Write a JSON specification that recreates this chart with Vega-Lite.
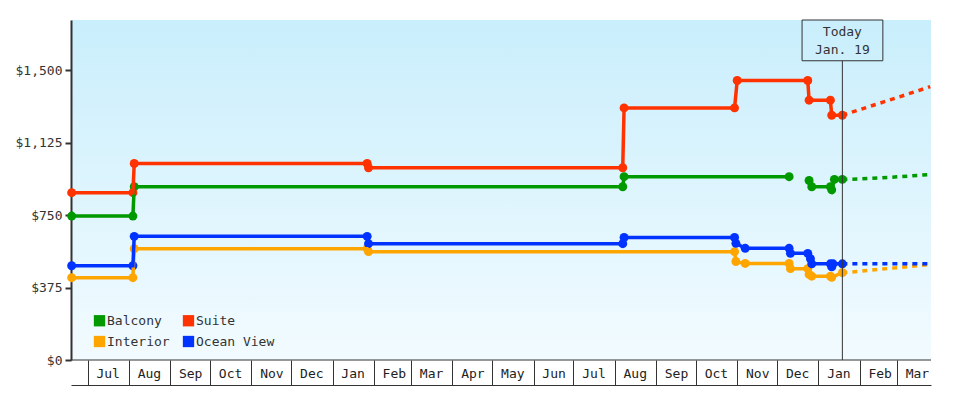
{
  "$schema": "https://vega.github.io/schema/vega-lite/v6.json",
  "width": 860,
  "height": 340,
  "autosize": {"type": "none"},
  "padding": {"left": 71, "top": 20, "right": 49, "bottom": 40},
  "background": "white",
  "config": {
    "view": {"stroke": null, "fill": {"gradient": "linear", "x1": 0, "y1": 0, "x2": 0, "y2": 1, "stops": [{"offset": 0, "color": "#c9eefc"}, {"offset": 1, "color": "#f2fbff"}]}},
    "font": "DejaVu Sans Mono",
    "axis": {"labelFont": "DejaVu Sans Mono", "labelFontSize": 13, "grid": false, "title": null},
    "legend": {"labelFont": "DejaVu Sans Mono", "labelFontSize": 13}
  },
  "datasets": {
    "hist": [
      {"series": "Balcony", "seg": "a", "date": "2013-06-19", "price": 745},
      {"series": "Balcony", "seg": "a", "date": "2013-08-04", "price": 745},
      {"series": "Balcony", "seg": "a", "date": "2013-08-05", "price": 897},
      {"series": "Balcony", "seg": "a", "date": "2014-08-07", "price": 897},
      {"series": "Balcony", "seg": "a", "date": "2014-08-08", "price": 949},
      {"series": "Balcony", "seg": "a", "date": "2014-12-10", "price": 949},
      {"series": "Balcony", "seg": "b", "date": "2014-12-25", "price": 929},
      {"series": "Balcony", "seg": "b", "date": "2014-12-27", "price": 897},
      {"series": "Balcony", "seg": "b", "date": "2015-01-10", "price": 897},
      {"series": "Balcony", "seg": "b", "date": "2015-01-11", "price": 881},
      {"series": "Balcony", "seg": "b", "date": "2015-01-13", "price": 935},
      {"series": "Balcony", "seg": "b", "date": "2015-01-19", "price": 935},
      {"series": "Interior", "seg": "a", "date": "2013-06-19", "price": 426},
      {"series": "Interior", "seg": "a", "date": "2013-08-04", "price": 426},
      {"series": "Interior", "seg": "a", "date": "2013-08-05", "price": 576},
      {"series": "Interior", "seg": "a", "date": "2014-01-27", "price": 576},
      {"series": "Interior", "seg": "a", "date": "2014-01-28", "price": 561},
      {"series": "Interior", "seg": "a", "date": "2014-10-30", "price": 561},
      {"series": "Interior", "seg": "a", "date": "2014-10-31", "price": 510},
      {"series": "Interior", "seg": "a", "date": "2014-11-07", "price": 500},
      {"series": "Interior", "seg": "a", "date": "2014-12-10", "price": 500},
      {"series": "Interior", "seg": "a", "date": "2014-12-11", "price": 473},
      {"series": "Interior", "seg": "a", "date": "2014-12-24", "price": 473},
      {"series": "Interior", "seg": "a", "date": "2014-12-25", "price": 443},
      {"series": "Interior", "seg": "a", "date": "2014-12-27", "price": 434},
      {"series": "Interior", "seg": "a", "date": "2015-01-10", "price": 434},
      {"series": "Interior", "seg": "a", "date": "2015-01-11", "price": 428},
      {"series": "Interior", "seg": "a", "date": "2015-01-19", "price": 452},
      {"series": "Ocean View", "seg": "a", "date": "2013-06-19", "price": 488},
      {"series": "Ocean View", "seg": "a", "date": "2013-08-04", "price": 488},
      {"series": "Ocean View", "seg": "a", "date": "2013-08-05", "price": 640},
      {"series": "Ocean View", "seg": "a", "date": "2014-01-27", "price": 640},
      {"series": "Ocean View", "seg": "a", "date": "2014-01-28", "price": 602},
      {"series": "Ocean View", "seg": "a", "date": "2014-08-07", "price": 602},
      {"series": "Ocean View", "seg": "a", "date": "2014-08-08", "price": 634},
      {"series": "Ocean View", "seg": "a", "date": "2014-10-30", "price": 634},
      {"series": "Ocean View", "seg": "a", "date": "2014-10-31", "price": 604},
      {"series": "Ocean View", "seg": "a", "date": "2014-11-07", "price": 578},
      {"series": "Ocean View", "seg": "a", "date": "2014-12-10", "price": 578},
      {"series": "Ocean View", "seg": "a", "date": "2014-12-11", "price": 552},
      {"series": "Ocean View", "seg": "a", "date": "2014-12-24", "price": 552},
      {"series": "Ocean View", "seg": "a", "date": "2014-12-26", "price": 524},
      {"series": "Ocean View", "seg": "a", "date": "2014-12-27", "price": 498},
      {"series": "Ocean View", "seg": "a", "date": "2015-01-10", "price": 498},
      {"series": "Ocean View", "seg": "a", "date": "2015-01-11", "price": 482},
      {"series": "Ocean View", "seg": "a", "date": "2015-01-12", "price": 498},
      {"series": "Ocean View", "seg": "a", "date": "2015-01-19", "price": 498},
      {"series": "Suite", "seg": "a", "date": "2013-06-19", "price": 866},
      {"series": "Suite", "seg": "a", "date": "2013-08-04", "price": 866},
      {"series": "Suite", "seg": "a", "date": "2013-08-05", "price": 1017},
      {"series": "Suite", "seg": "a", "date": "2014-01-27", "price": 1017},
      {"series": "Suite", "seg": "a", "date": "2014-01-28", "price": 995},
      {"series": "Suite", "seg": "a", "date": "2014-08-07", "price": 995},
      {"series": "Suite", "seg": "a", "date": "2014-08-08", "price": 1305},
      {"series": "Suite", "seg": "a", "date": "2014-10-30", "price": 1305},
      {"series": "Suite", "seg": "a", "date": "2014-11-01", "price": 1447},
      {"series": "Suite", "seg": "a", "date": "2014-12-24", "price": 1447},
      {"series": "Suite", "seg": "a", "date": "2014-12-25", "price": 1345},
      {"series": "Suite", "seg": "a", "date": "2015-01-10", "price": 1345},
      {"series": "Suite", "seg": "a", "date": "2015-01-11", "price": 1267},
      {"series": "Suite", "seg": "a", "date": "2015-01-19", "price": 1267}
    ],
    "proj": [
      {"series": "Balcony", "date": "2015-01-19", "price": 935},
      {"series": "Balcony", "date": "2015-02-01", "price": 937},
      {"series": "Balcony", "date": "2015-03-01", "price": 948},
      {"series": "Balcony", "date": "2015-03-26", "price": 960},
      {"series": "Interior", "date": "2015-01-19", "price": 452},
      {"series": "Interior", "date": "2015-02-01", "price": 459},
      {"series": "Interior", "date": "2015-03-01", "price": 478},
      {"series": "Interior", "date": "2015-03-26", "price": 495},
      {"series": "Ocean View", "date": "2015-01-19", "price": 498},
      {"series": "Ocean View", "date": "2015-02-01", "price": 498},
      {"series": "Ocean View", "date": "2015-03-01", "price": 498},
      {"series": "Ocean View", "date": "2015-03-26", "price": 498},
      {"series": "Suite", "date": "2015-01-19", "price": 1267},
      {"series": "Suite", "date": "2015-02-01", "price": 1296},
      {"series": "Suite", "date": "2015-03-01", "price": 1358},
      {"series": "Suite", "date": "2015-03-26", "price": 1415}
    ]
  },
  "layer": [
    {
      "data": {"name": "hist"},
      "mark": {"type": "circle", "size": 80, "opacity": 1},
      "encoding": {
        "x": {"field": "date", "type": "temporal",
          "scale": {"type": "utc", "nice": false, "domain": [{"year": 2013, "month": 6, "date": 18, "hours": 12, "utc": true}, {"year": 2015, "month": 3, "date": 26, "hours": 14, "utc": true}]},
          "axis": {"orient": "bottom", "offset": 25, "tickCount": {"interval": "month", "step": 1}, "format": "%b", "tickSize": -25, "tickColor": "#333", "tickWidth": 1, "labelOffset": 20, "labelPadding": 13, "labelBaseline": "middle", "labelAlign": "center", "labelFlush": false, "labelOverlap": false, "labelBound": false, "labelColor": "#222", "domainColor": "#333", "domainWidth": 1}},
        "y": {"field": "price", "type": "quantitative",
          "scale": {"domain": [0, 1760], "nice": false},
          "axis": {"values": [0, 375, 750, 1125, 1500], "format": "$,.0f", "domainWidth": 2, "domainColor": "#333", "tickWidth": 2, "tickSize": 6, "tickColor": "#333", "labelPadding": 3, "labelColor": "#333"}},
        "color": {"field": "series", "type": "nominal",
          "scale": {"domain": ["Balcony", "Suite", "Interior", "Ocean View"], "range": ["#009900", "#ff3300", "#ffa500", "#0033ff"]},
          "legend": {"orient": "none", "legendX": 22, "legendY": 294, "direction": "horizontal", "columns": 2, "symbolType": "square", "symbolSize": 128, "symbolStrokeWidth": 0, "labelColor": "#333", "labelOffset": 1, "columnPadding": 12, "rowPadding": 7, "title": null, "padding": 0}}
      }
    },
    {
      "data": {"name": "hist"},
      "mark": {"type": "line", "strokeWidth": 3.5},
      "encoding": {
        "x": {"field": "date", "type": "temporal"},
        "y": {"field": "price", "type": "quantitative"},
        "color": {"field": "series", "type": "nominal"},
        "detail": {"field": "seg"}
      }
    },
    {
      "data": {"name": "proj"},
      "mark": {"type": "line", "strokeWidth": 3.5, "strokeDash": [5, 5]},
      "encoding": {
        "x": {"field": "date", "type": "temporal"},
        "y": {"field": "price", "type": "quantitative"},
        "color": {"field": "series", "type": "nominal"}
      }
    },
    {
      "data": {"values": [{}]},
      "mark": {"type": "rule", "color": "#333", "strokeWidth": 1},
      "encoding": {
        "y": {"datum": 0, "type": "quantitative"}
      }
    },
    {
      "data": {"values": [{}]},
      "mark": {"type": "rule", "color": "#333", "strokeWidth": 1},
      "encoding": {
        "x": {"datum": {"year": 2015, "month": 1, "date": 19, "utc": true}, "type": "temporal"},
        "y": {"datum": 0, "type": "quantitative"},
        "y2": {"datum": 1549}
      }
    },
    {
      "data": {"values": [{}]},
      "mark": {"type": "rect", "fill": "#d2f1fc", "fillOpacity": 0, "stroke": "#333", "strokeWidth": 1},
      "encoding": {
        "x": {"datum": {"year": 2014, "month": 12, "date": 19, "hours": 17, "utc": true}, "type": "temporal"},
        "x2": {"datum": {"year": 2015, "month": 2, "date": 18, "hours": 10, "utc": true}},
        "y": {"datum": 1549, "type": "quantitative"},
        "y2": {"datum": 1760}
      }
    },
    {
      "data": {"values": [{}]},
      "mark": {"type": "text", "text": ["Today", "Jan. 19"], "lineHeight": 18, "font": "DejaVu Sans Mono", "fontSize": 13, "color": "#333", "baseline": "middle", "align": "center"},
      "encoding": {
        "x": {"datum": {"year": 2015, "month": 1, "date": 19, "utc": true}, "type": "temporal"},
        "y": {"datum": 1696, "type": "quantitative"}
      }
    }
  ]
}
